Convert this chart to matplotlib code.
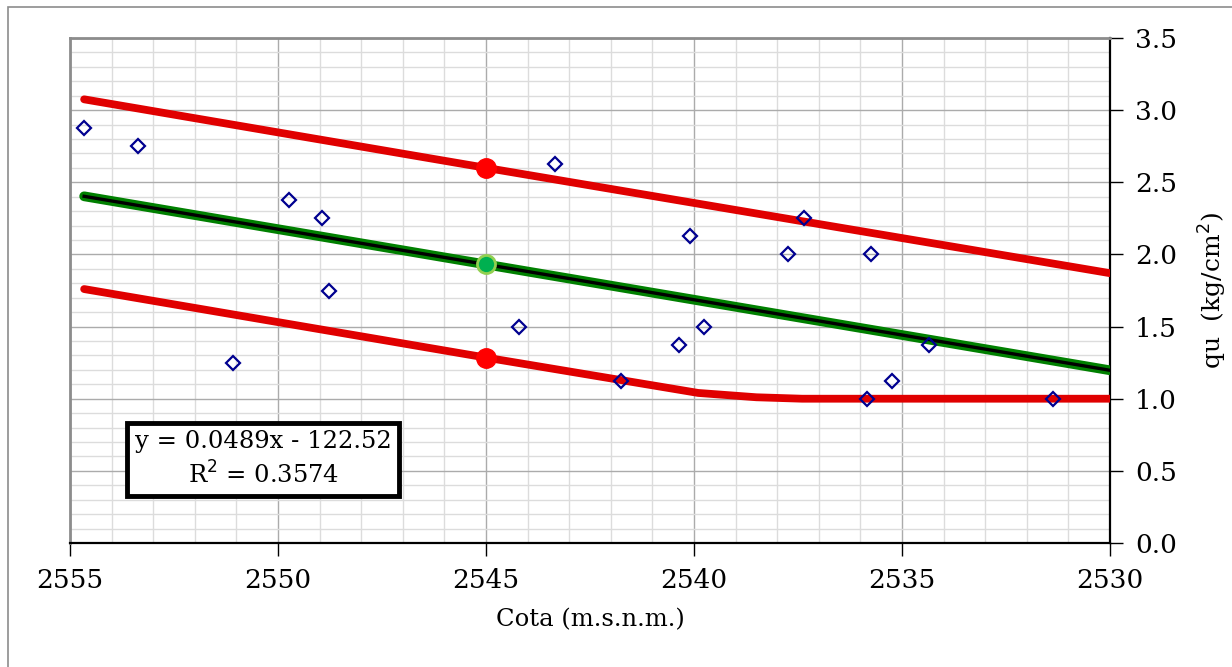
import numpy as np
import matplotlib
matplotlib.use("Agg")
import matplotlib.pyplot as plt
from matplotlib.ticker import MultipleLocator, FormatStrFormatter
from matplotlib.patches import Rectangle

plt.rcParams['font.family'] = ['DejaVu Serif']

# ensayos de compresion: cota vs resistencia
cota = [2554.66, 2553.37, 2551.08, 2549.74, 2548.94, 2548.77, 2544.20, 2543.34,
        2541.75, 2540.35, 2540.10, 2539.75, 2537.75, 2537.36, 2535.75, 2535.85,
        2535.25, 2534.35, 2531.36]
qu = [2.875, 2.75, 1.25, 2.375, 2.25, 1.75, 1.5, 2.625,
      1.125, 1.375, 2.125, 1.5, 2.0, 2.25, 2.0, 1.0,
      1.125, 1.375, 1.0]

# ajuste lineal
slope, intercept = 0.0489, -122.52
r2 = 0.3574

# envolventes
sup_x = [2554.66, 2545, 2530]
sup_y = [3.075, 2.60, 1.87]
inf_x = [2554.66, 2545, 2539.9, 2538.5, 2537.4, 2530]
inf_y = [1.76, 1.285, 1.04, 1.01, 1.0, 1.0]

# punto de referencia
ref_x = 2545

fig = plt.figure(figsize=(12.32, 6.67), dpi=100)
fig.patches.append(Rectangle((8 / 1232, -0.1), 1.2, 1.1 - 7 / 667,
                             transform=fig.transFigure, fill=False,
                             edgecolor='#8c8c8c', linewidth=1.2))
ax = fig.add_axes([70 / 1232, 1 - 543 / 667, 1040 / 1232, 505 / 667])

ax.set_xlim(2555, 2530)
ax.set_ylim(0, 3.5)
ax.xaxis.set_major_locator(MultipleLocator(5))
ax.xaxis.set_minor_locator(MultipleLocator(1))
ax.yaxis.set_major_locator(MultipleLocator(0.5))
ax.yaxis.set_minor_locator(MultipleLocator(0.1))
ax.yaxis.set_major_formatter(FormatStrFormatter('%.1f'))
ax.grid(which='major', color='#ababab', linewidth=1.0)
ax.grid(which='minor', color='#dcdcdc', linewidth=1.0)
ax.set_axisbelow(True)

ax.yaxis.tick_right()
ax.yaxis.set_label_position('right')
ax.tick_params(axis='both', which='major', direction='out', length=9,
               width=1, labelsize=19, pad=9)
ax.tick_params(axis='both', which='minor', length=0)
for side in ['top', 'left']:
    ax.spines[side].set_color('#8c8c8c')
    ax.spines[side].set_linewidth(2)
for side in ['bottom', 'right']:
    ax.spines[side].set_color('black')
    ax.spines[side].set_linewidth(1.6)

# lineas envolventes
ax.plot(sup_x, sup_y, color='#e00000', linewidth=5.6, solid_capstyle='round', zorder=3)
ax.plot(inf_x, inf_y, color='#e00000', linewidth=5.6, solid_capstyle='round', zorder=3)

# linea media y tendencia
xr = np.array([cota[0], 2530])
ax.plot(xr, slope * xr + intercept, color='#008000', linewidth=7,
        solid_capstyle='round', zorder=4)
ax.plot(xr, slope * xr + intercept, color='black', linewidth=2.4, zorder=5)

# datos
ax.plot(cota, qu, linestyle='none', marker='D', markersize=7.2,
        markerfacecolor='none', markeredgecolor='#000090',
        markeredgewidth=1.6, zorder=6)

# puntos en la cota 2545
ax.plot([ref_x, ref_x], [np.interp(ref_x, sup_x[::-1], sup_y[::-1]),
                         np.interp(ref_x, inf_x[::-1], inf_y[::-1])],
        linestyle='none', marker='o', markersize=14, color='#ff0000', zorder=7)
ax.plot([ref_x], [slope * ref_x + intercept], marker='o', markersize=13,
        markerfacecolor='#00b050', markeredgecolor='#92d050',
        markeredgewidth=2, zorder=7)

ax.text(2550.36, 0.58, 'y = %.4fx - %.2f\nR$^2$ = %.4f' % (slope, -intercept, r2),
        fontsize=17.5, ha='center', va='center', linespacing=1.35, zorder=8,
        bbox=dict(boxstyle='square,pad=0.3', facecolor='white',
                  edgecolor='black', linewidth=3.5))

ax.set_xlabel('Cota (m.s.n.m.)', fontsize=17.5, labelpad=11)
ax.set_ylabel('qu  (kg/cm$^2$)', fontsize=18, labelpad=14)

fig.savefig('out.png', dpi=100)
